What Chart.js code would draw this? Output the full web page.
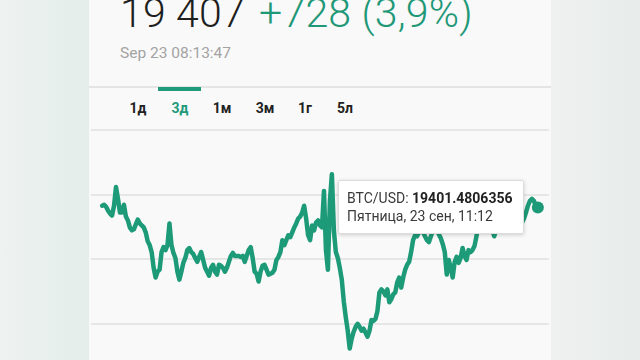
<!DOCTYPE html>
<html>
<head>
<meta charset="utf-8">
<script src="https://cdn.jsdelivr.net/npm/chart.js@4"></script>
<style>
  html, body { margin: 0; padding: 0; }
  body {
    width: 640px; height: 360px; overflow: hidden; position: relative;
    font-family: Roboto, "Noto Sans", sans-serif;
    background: linear-gradient(90deg, #eef2f0 0%, #e3ede9 14%, #f4f5f5 50%, #eef1f0 86%, #e7ecea 100%);
  }
  .panel { position: absolute; left: 89px; top: 0; width: 462px; height: 360px; background: #f9f9f9; }
  .price { position: absolute; left: 31px; top: -11px; font-size: 41px; font-weight: 300; color: #1e1e1e; white-space: nowrap; letter-spacing: 0.2px; }
  .price .chg { color: #1f9877; margin-left: 4px; }
  .stamp { position: absolute; left: 31px; top: 44px; font-size: 15.5px; color: #a3a3a3; }
  .sep { position: absolute; left: 0; top: 86px; width: 462px; height: 2px; background: #e4e4e4; }
  .tabs { position: absolute; left: 0; top: 100px; width: 462px; }
  .tab { position: absolute; font-size: 14px; font-weight: bold; color: #222; transform: translateX(-50%); }
  .tab.active { color: #23997a; }
  .under { position: absolute; left: 69px; top: 87px; width: 43px; height: 4px; background: #1f9a7b; }
  .wrap { position: absolute; left: 0; top: 110px; width: 462px; height: 290px; }
  #tip {
    position: absolute; background: #fff; border: 1px solid #dcdcdc; border-radius: 2px;
    box-shadow: 0 1px 4px rgba(0,0,0,0.18); padding: 8px 11px 8px 8px;
    font-size: 14px; line-height: 18px; color: #3a3a3a; white-space: nowrap; pointer-events: none;
  }
  #tip b { color: #222; }
</style>
</head>
<body>
<div class="panel">
  <div class="price">19 407 <span class="chg">+728 (3,9%)</span></div>
  <div class="stamp">Sep 23 08:13:47</div>
  <div class="sep"></div>
  <div class="under"></div>
  <div class="tabs" id="tabs"></div>
  <div class="wrap">
    <canvas id="chart"></canvas>
    <div id="tip"><div>BTC/USD: <b id="tipVal"></b></div><div id="tipDate"></div></div>
  </div>
</div>
<script>
// tabs
const periods = ["1д", "3д", "1м", "3м", "1г", "5л"];
const tabCenters = [49, 91, 133, 176, 216, 256];
const activeTab = 1;

const tabs = document.getElementById("tabs");
periods.forEach((p, i) => {
  const el = document.createElement("div");
  el.className = i === activeTab ? "tab active" : "tab";
  el.style.left = tabCenters[i] + "px";
  el.textContent = p;
  tabs.appendChild(el);
});

// BTC/USD, 3 days
const prices = [
  19416, 19424, 19408, 19378, 19355, 19340, 19416, 19561, 19469, 19363,
  19363, 19424, 19332, 19302, 19248, 19225, 19233, 19271, 19309, 19279,
  19263, 19248, 19210, 19141, 19111, 19057, 18935, 18859, 18905, 18920,
  19057, 19095, 19072, 19111, 19279, 19111, 19050, 19011, 18905, 18843,
  18905, 18973, 19011, 19072, 19088, 19057, 19042, 19011, 18981, 19019,
  19057, 18996, 18935, 18905, 18874, 18935, 18958, 18905, 18882, 18958,
  18950, 18935, 18905, 18935, 18981, 19027, 19050, 19027, 19027, 19027,
  19019, 19027, 18981, 19027, 19072, 19095, 19011, 18905, 18889, 18828,
  18905, 18950, 18958, 18920, 18882, 18889, 18897, 18920, 18996, 19019,
  19057, 19149, 19111, 19149, 19187, 19172, 19210, 19248, 19279, 19317,
  19332, 19363, 19416, 19317, 19187, 19149, 19263, 19225, 19286, 19302,
  19263, 19248, 19531, 19072, 18920, 19454, 19660, 19225, 19057, 19011,
  18935, 18843, 18676, 18553, 18447, 18309, 18385, 18439, 18477, 18500,
  18477, 18447, 18462, 18431, 18401, 18447, 18530, 18523, 18538, 18599,
  18744, 18767, 18752, 18721, 18767, 18668, 18691, 18729, 18744, 18821,
  18859, 18782, 18859, 18920, 18958, 18981, 19057, 19149, 19187, 19179,
  19210, 19240, 19210, 19179, 19149, 19134, 19179, 19225, 19256, 19225,
  19195, 19164, 19118, 19057, 18882, 18996, 18935, 18859, 18981, 19019,
  18973, 19011, 19088, 19027, 18996, 19072, 19057, 19072, 19103, 19179,
  19263, 19302, 19286, 19317, 19286, 19256, 19271, 19225, 19179, 19240,
  19286, 19317, 19302, 19332, 19347, 19317, 19347, 19363, 19332, 19347,
  19317, 19302, 19286, 19317, 19363, 19416, 19454, 19469, 19454, 19416,
  19401.4806356
];
const lastTime = "Пятница, 23 сен, 11:12";
const gridValues = [18000, 18500, 19000, 19500, 20000];

const green = "#1d9a77";
const tipEl = document.getElementById("tip");

function externalTip({ chart, tooltip }) {
  if (tooltip.opacity === 0) {
    tipEl.style.opacity = 0;
    return;
  }
  const point = tooltip.dataPoints[0];
  document.getElementById("tipVal").textContent = String(point.raw);
  document.getElementById("tipDate").textContent = lastTime;
  tipEl.style.opacity = 1;
  tipEl.style.left = (tooltip.caretX - 16 - tipEl.offsetWidth) + "px";
  tipEl.style.top = (tooltip.caretY - tipEl.offsetHeight / 2) + "px";
}

const chart = new Chart(document.getElementById("chart"), {
  type: "line",
  data: {
    labels: prices.map((_, i) => i),
    datasets: [
      {
        data: prices,
        borderColor: green,
        borderWidth: 4.5,
        borderJoinStyle: "round",
        borderCapStyle: "round",
        tension: 0,
        pointRadius: 0,
        pointHoverRadius: 6,
        pointHoverBackgroundColor: green,
        pointHoverBorderColor: green,
        pointHoverBorderWidth: 0,
      },
    ],
  },
  options: {
    responsive: true,
    maintainAspectRatio: false,
    animation: false,
    events: [],
    layout: { padding: 0 },
    plugins: {
      legend: { display: false },
      tooltip: { enabled: false, external: externalTip },
    },
    scales: {
      x: {
        type: "linear",
        display: false,
        min: -5.5,
        max: prices.length - 1 + 5.5,
      },
      y: {
        min: 17927,
        max: 20141,
        border: { display: false },
        grid: { color: "#e6e6e6", lineWidth: 2, drawTicks: false },
        ticks: { display: false },
        afterBuildTicks: (axis) => {
          axis.ticks = gridValues.map((v) => ({ value: v }));
        },
      },
    },
  },
});

const last = [{ datasetIndex: 0, index: prices.length - 1 }];
chart.setActiveElements(last);
chart.tooltip.setActiveElements(last, { x: 0, y: 0 });
chart.update();
</script>
</body>
</html>
